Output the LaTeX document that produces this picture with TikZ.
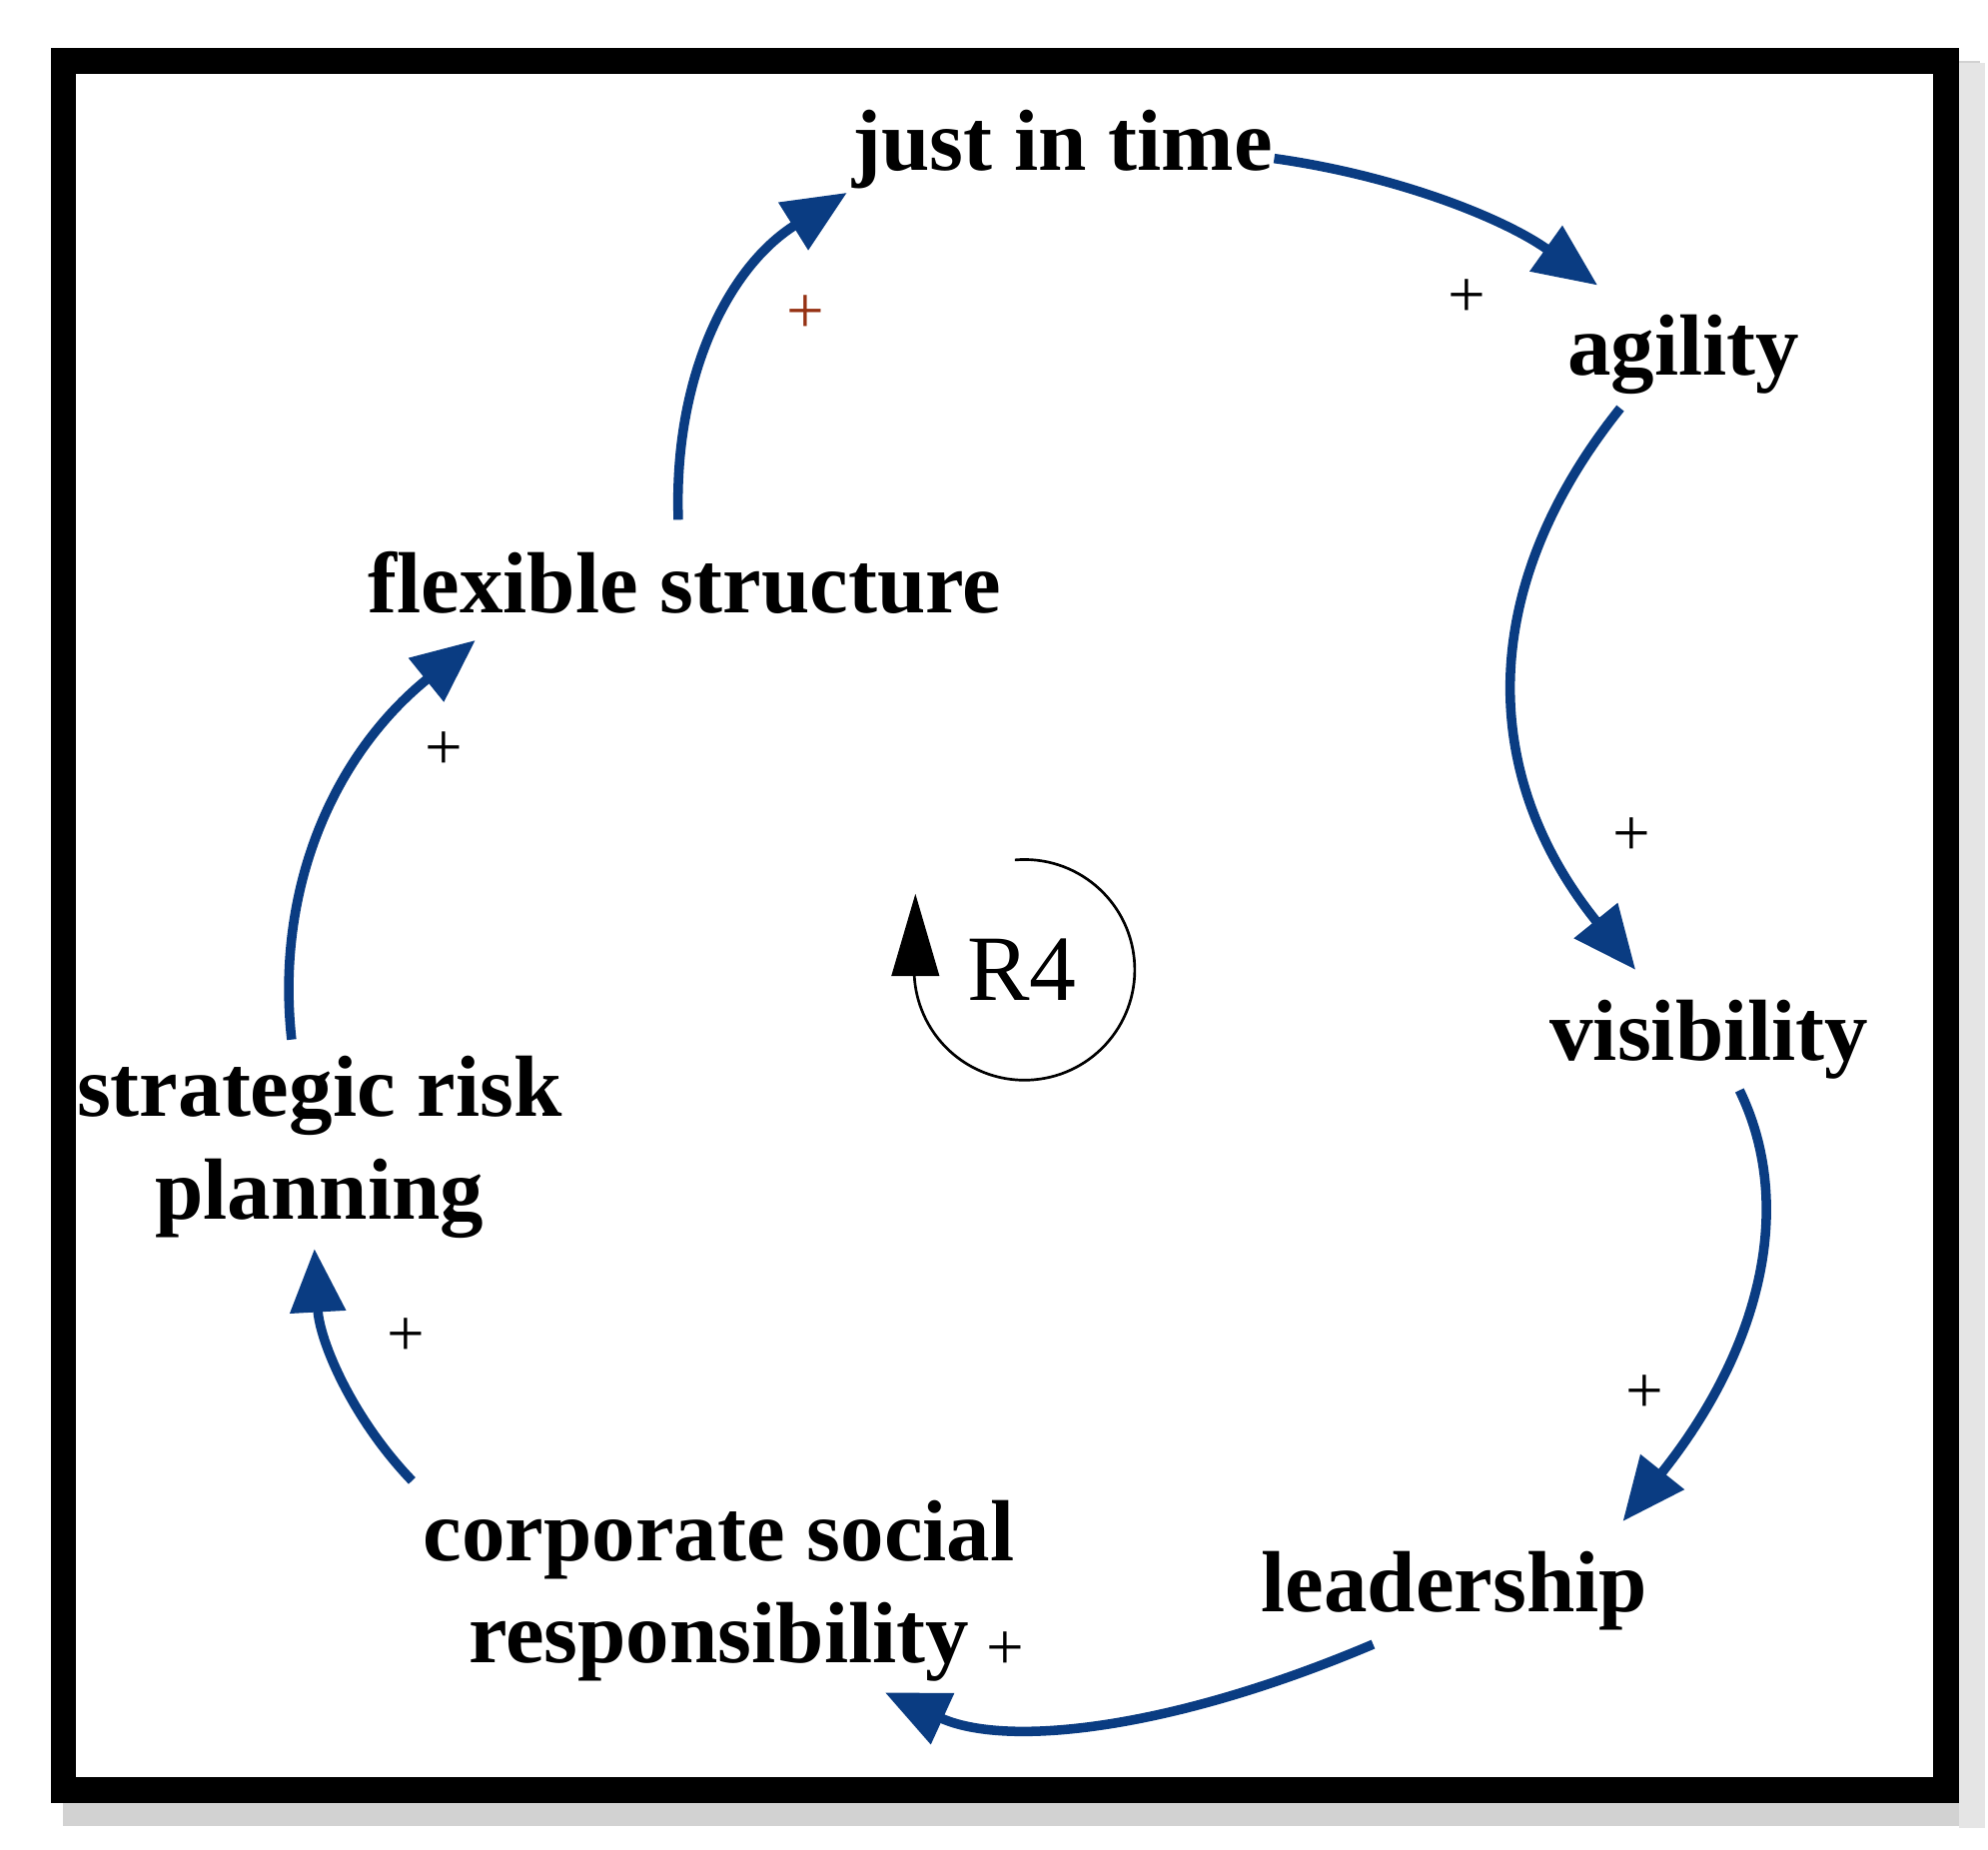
\documentclass[tikz,border=0pt]{standalone}
\usepackage{fontspec}
\setmainfont{Liberation Serif}
\usetikzlibrary{arrows.meta,calc}
\definecolor{lnk}{RGB}{10,60,130}
\definecolor{brn}{RGB}{150,50,20}
\tikzset{
 lbl/.style={font=\fontsize{39}{46}\selectfont\bfseries, align=center, inner sep=0},
 pl/.style={font=\fontsize{30}{30}\selectfont, inner sep=0},
 lnkarr/.style={draw=lnk, line width=0.15cm, -{Triangle[length=1.0cm,width=0.85cm]}}
}
\newcommand{\qarrow}[3]{\draw[lnkarr] (#1) .. controls ($(#1)!0.667!(#2)$) and ($(#3)!0.667!(#2)$) .. (#3);}
\begin{document}
\begin{tikzpicture}[x=0.02cm,y=-0.02cm]
\useasboundingbox (0,0) rectangle (1568,1459);
\fill[gray!35] (50,48) rectangle (1562,1440);
\fill[gray!20] (1545,50) rectangle (1566,1442);
\fill[black] (40,38) rectangle (1545,1422);
\fill[white] (60,58) rectangle (1525,1402);
\node[lbl] (jit) at (838,118) {just in time};
\node[lbl] (ag) at (1328,280) {agility};
\node[lbl] (vis) at (1348,820) {visibility};
\node[lbl] (lead) at (1147,1255) {leadership};
\node[lbl] (csr) at (567,1255) {corporate social\\responsibility};
\node[lbl] (srp) at (252,905) {strategic risk\\planning};
\node[lbl] (flex) at (540,460) {flexible structure};
\coordinate (a1) at (1005,125); \coordinate (aq) at (1148,145); \coordinate (a2) at (1260,225);
\coordinate (b1) at (1278,322); \coordinate (bq) at (1106,537); \coordinate (b2) at (1290,765);
\coordinate (c1) at (1372,860); \coordinate (cq) at (1440,1000); \coordinate (c2) at (1280,1200);
\coordinate (d1) at (1083,1297); \coordinate (dq) at (840,1400); \coordinate (d2) at (698,1335);
\coordinate (e1) at (325,1168); \coordinate (eq) at (254,1094); \coordinate (e2) at (248,985);
\coordinate (f1) at (230,820); \coordinate (fq) at (210,638); \coordinate (f2) at (375,505);
\coordinate (g1) at (535,410); \coordinate (gq) at (529,239); \coordinate (g2) at (668,152);
\qarrow{a1}{aq}{a2}
\qarrow{b1}{bq}{b2}
\qarrow{c1}{cq}{c2}
\qarrow{d1}{dq}{d2}
\qarrow{e1}{eq}{e2}
\qarrow{f1}{fq}{f2}
\qarrow{g1}{gq}{g2}
\node[pl, text=brn] (p1) at (635,248) {+};
\node[pl] (p2) at (1157,235) {+};
\node[pl] (p3) at (1287,660) {+};
\node[pl] (p4) at (1297,1100) {+};
\node[pl] (p5) at (793,1302) {+};
\node[pl] (p6) at (320,1055) {+};
\node[pl] (p7) at (350,592) {+};
\node[font=\fontsize{42}{42}\selectfont, inner sep=0] (r4) at (806,765) {R4};
\draw[line width=1.2pt] (808,765) ++(-95:87) arc[start angle=-95, end angle=188, radius=87];
\coordinate (t0) at (722,752); \coordinate (t1) at (722,705);
\draw[line width=1.2pt, -{Triangle[length=1.3cm,width=0.75cm]}] (t0) -- (t1);
\end{tikzpicture}
\end{document}
